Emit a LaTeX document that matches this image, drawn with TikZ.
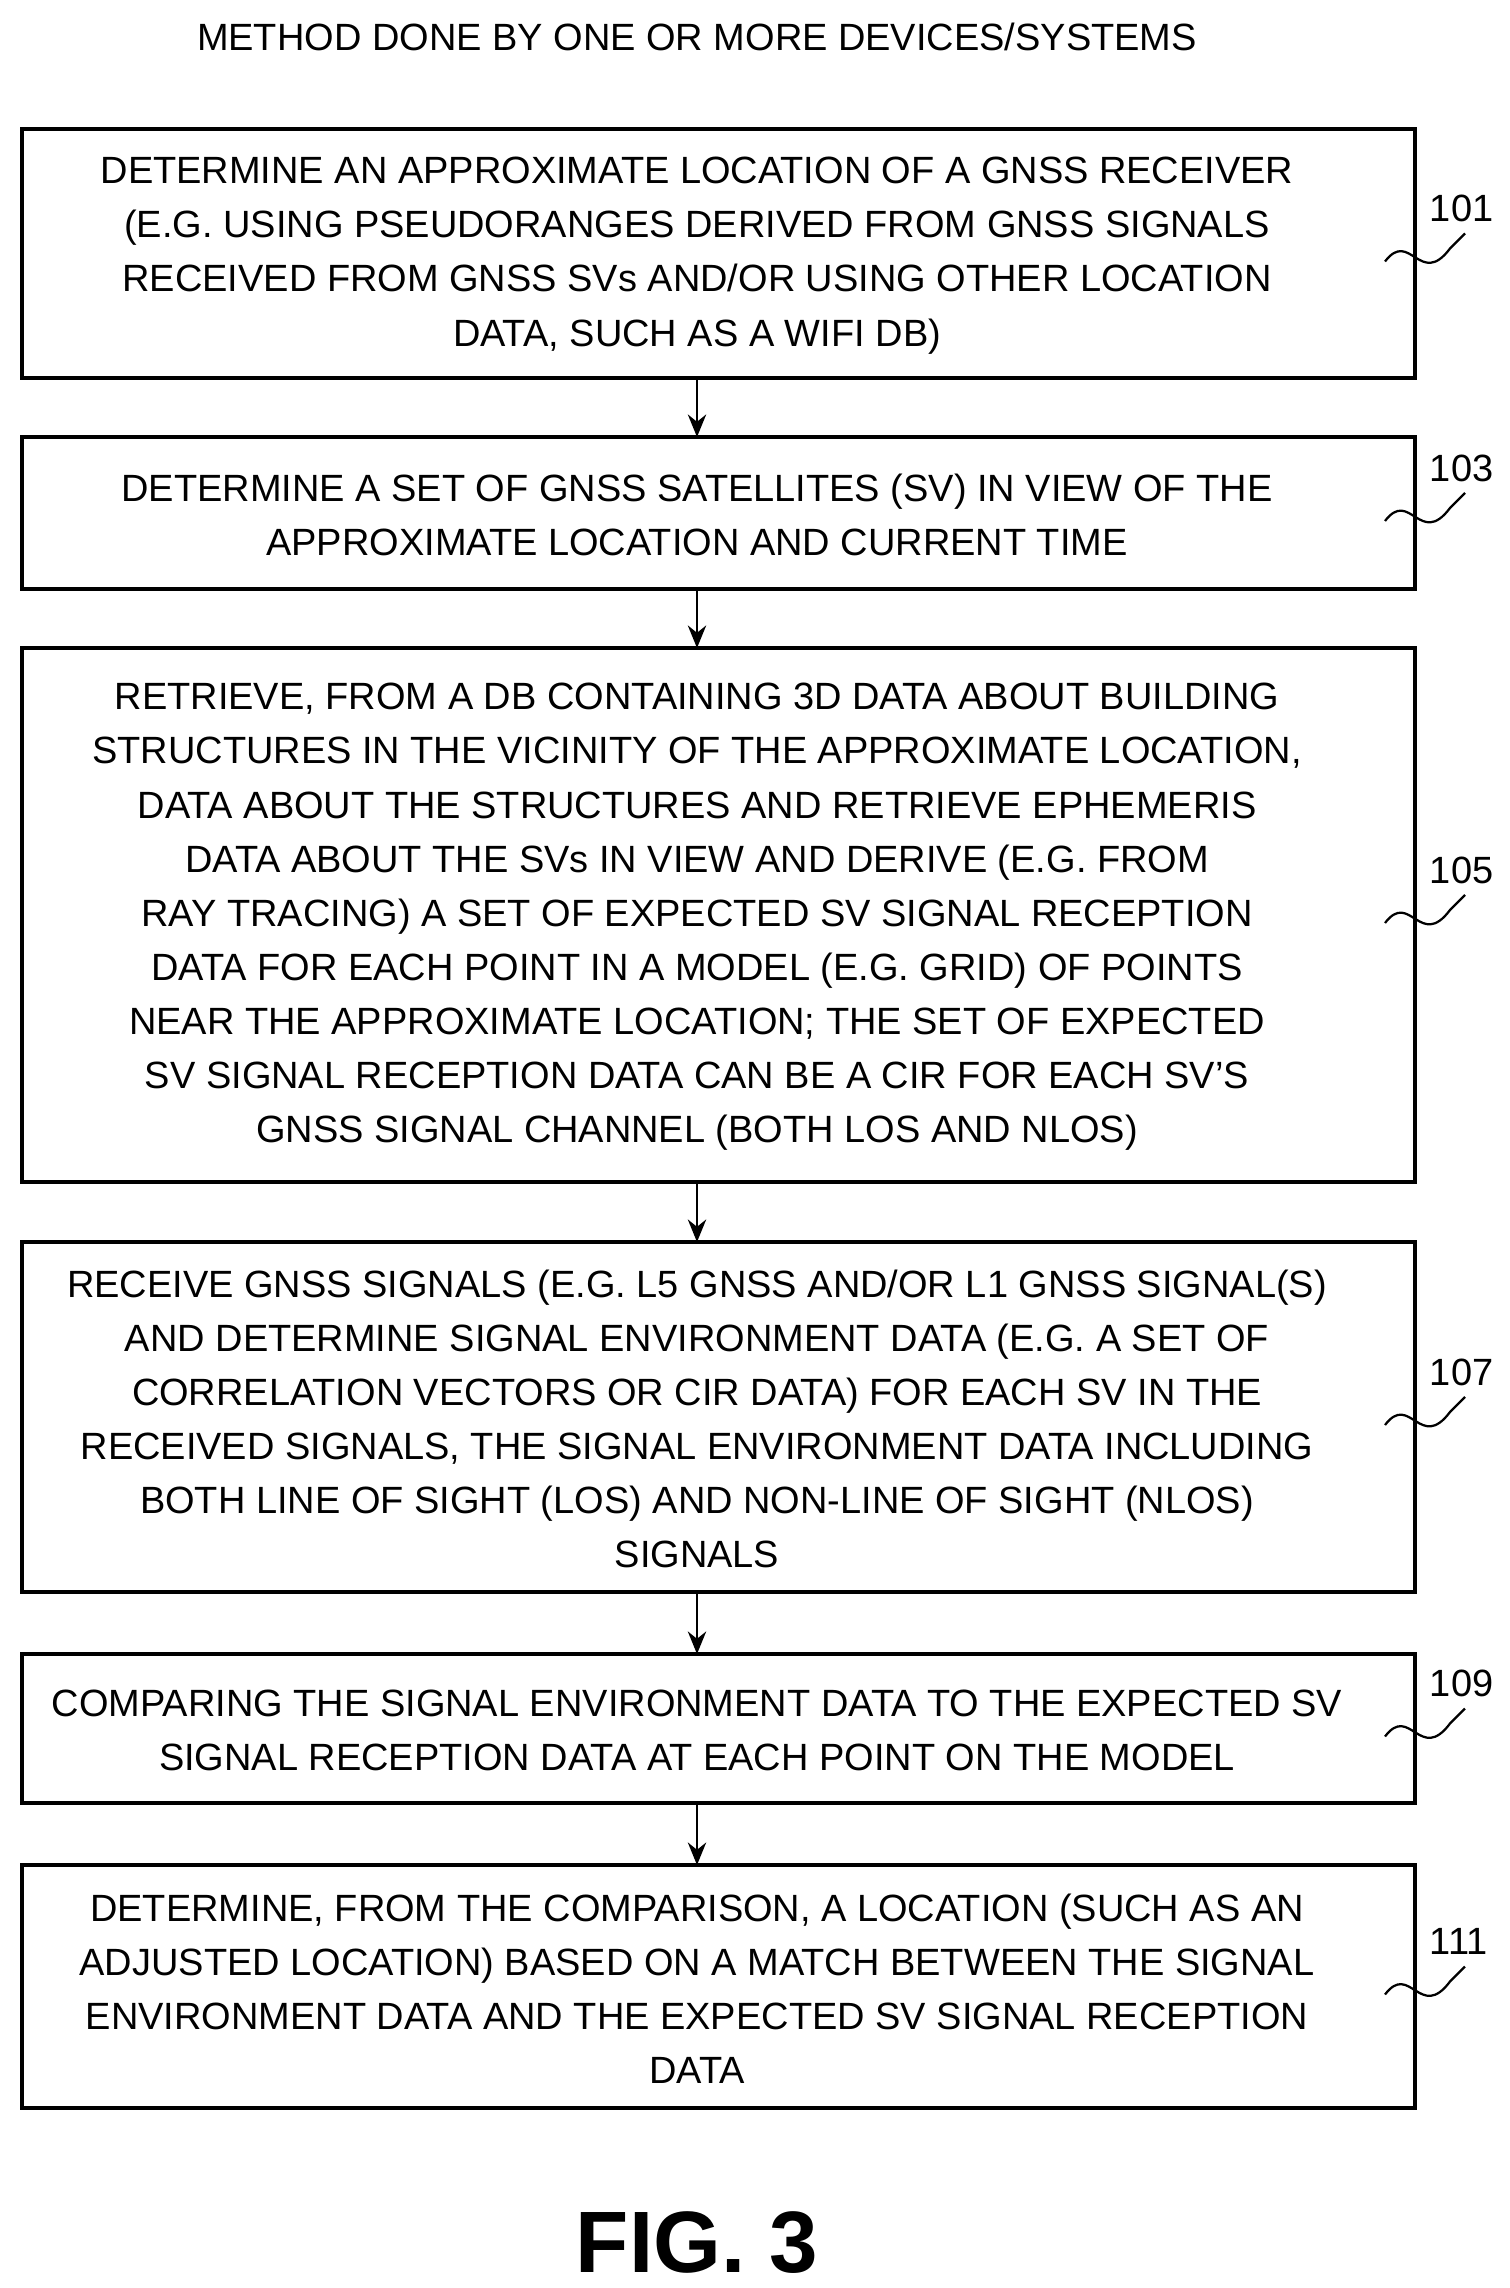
\documentclass[tikz,border=0pt]{standalone}
\usepackage{fontspec}
\setmainfont{Liberation Sans}
\usetikzlibrary{arrows.meta}
\begin{document}
\begin{tikzpicture}[x=0.025cm,y=-0.025cm,
  stepbox/.style={draw,line width=2.4pt,align=center,inner sep=0pt},
  txt/.style={font=\fontsize{27}{38.5}\selectfont,align=center},
  conn/.style={line width=2pt,-{Stealth[length=16pt,width=13pt]}},
  wig/.style={line width=1.6pt},
  lbl/.style={font=\fontsize{27}{32}\selectfont}]
\useasboundingbox (0,0) rectangle (1510,2288);
\node[lbl] (title) at (697,37) {METHOD DONE BY ONE OR MORE DEVICES/SYSTEMS};
\newcommand{\stepb}[5]{%
  \draw[line width=2.4pt] (22,#2) rectangle (1415,#3);
  \node[txt] (#1) at (697,{(#2+#3)/2+2}) {#4};
  \coordinate (#1t) at (697,#2);
  \coordinate (#1b) at (697,#3);
  \draw[wig] (1385,{#2+(#3-#2)/2+8}) .. controls (1410,{#2+(#3-#2)/2-25}) and (1420,{#2+(#3-#2)/2+35}) .. (1450,{#2+(#3-#2)/2-5}) .. controls (1460,{#2+(#3-#2)/2-15}) .. (1465,{#2+(#3-#2)/2-20});
  \node[lbl,anchor=west] (#1l) at (1425,{#2+(#3-#2)/2-45}) {#5};}
\stepb{a}{129}{378}{DETERMINE AN APPROXIMATE LOCATION OF A GNSS RECEIVER\\(E.G. USING PSEUDORANGES DERIVED FROM GNSS SIGNALS\\RECEIVED FROM GNSS SVs AND/OR USING OTHER LOCATION\\DATA, SUCH AS A WIFI DB)}{101}
\stepb{b}{437}{589}{DETERMINE A SET OF GNSS SATELLITES (SV) IN VIEW OF THE\\APPROXIMATE LOCATION AND CURRENT TIME}{103}
\stepb{c}{648}{1182}{RETRIEVE, FROM A DB CONTAINING 3D DATA ABOUT BUILDING\\STRUCTURES IN THE VICINITY OF THE APPROXIMATE LOCATION,\\DATA ABOUT THE STRUCTURES AND RETRIEVE EPHEMERIS\\DATA ABOUT THE SVs IN VIEW AND DERIVE (E.G. FROM\\RAY TRACING) A SET OF EXPECTED SV SIGNAL RECEPTION\\DATA FOR EACH POINT IN A MODEL (E.G. GRID) OF POINTS\\NEAR THE APPROXIMATE LOCATION; THE SET OF EXPECTED\\SV SIGNAL RECEPTION DATA CAN BE A CIR FOR EACH SV'S\\GNSS SIGNAL CHANNEL (BOTH LOS AND NLOS)}{105}
\stepb{d}{1242}{1592}{RECEIVE GNSS SIGNALS (E.G. L5 GNSS AND/OR L1 GNSS SIGNAL(S)\\AND DETERMINE SIGNAL ENVIRONMENT DATA (E.G. A SET OF\\CORRELATION VECTORS OR CIR DATA) FOR EACH SV IN THE\\RECEIVED SIGNALS, THE SIGNAL ENVIRONMENT DATA INCLUDING\\BOTH LINE OF SIGHT (LOS) AND NON-LINE OF SIGHT (NLOS)\\SIGNALS}{107}
\stepb{e}{1654}{1803}{COMPARING THE SIGNAL ENVIRONMENT DATA TO THE EXPECTED SV\\SIGNAL RECEPTION DATA AT EACH POINT ON THE MODEL}{109}
\stepb{f}{1865}{2108}{DETERMINE, FROM THE COMPARISON, A LOCATION (SUCH AS AN\\ADJUSTED LOCATION) BASED ON A MATCH BETWEEN THE SIGNAL\\ENVIRONMENT DATA AND THE EXPECTED SV SIGNAL RECEPTION\\DATA}{111}
\draw[conn] (ab) -- (bt);
\draw[conn] (bb) -- (ct);
\draw[conn] (cb) -- (dt);
\draw[conn] (db) -- (et);
\draw[conn] (eb) -- (ft);
\node[font=\fontsize{62}{70}\selectfont\bfseries] (fig) at (697,2243) {FIG. 3};
\end{tikzpicture}
\end{document}
